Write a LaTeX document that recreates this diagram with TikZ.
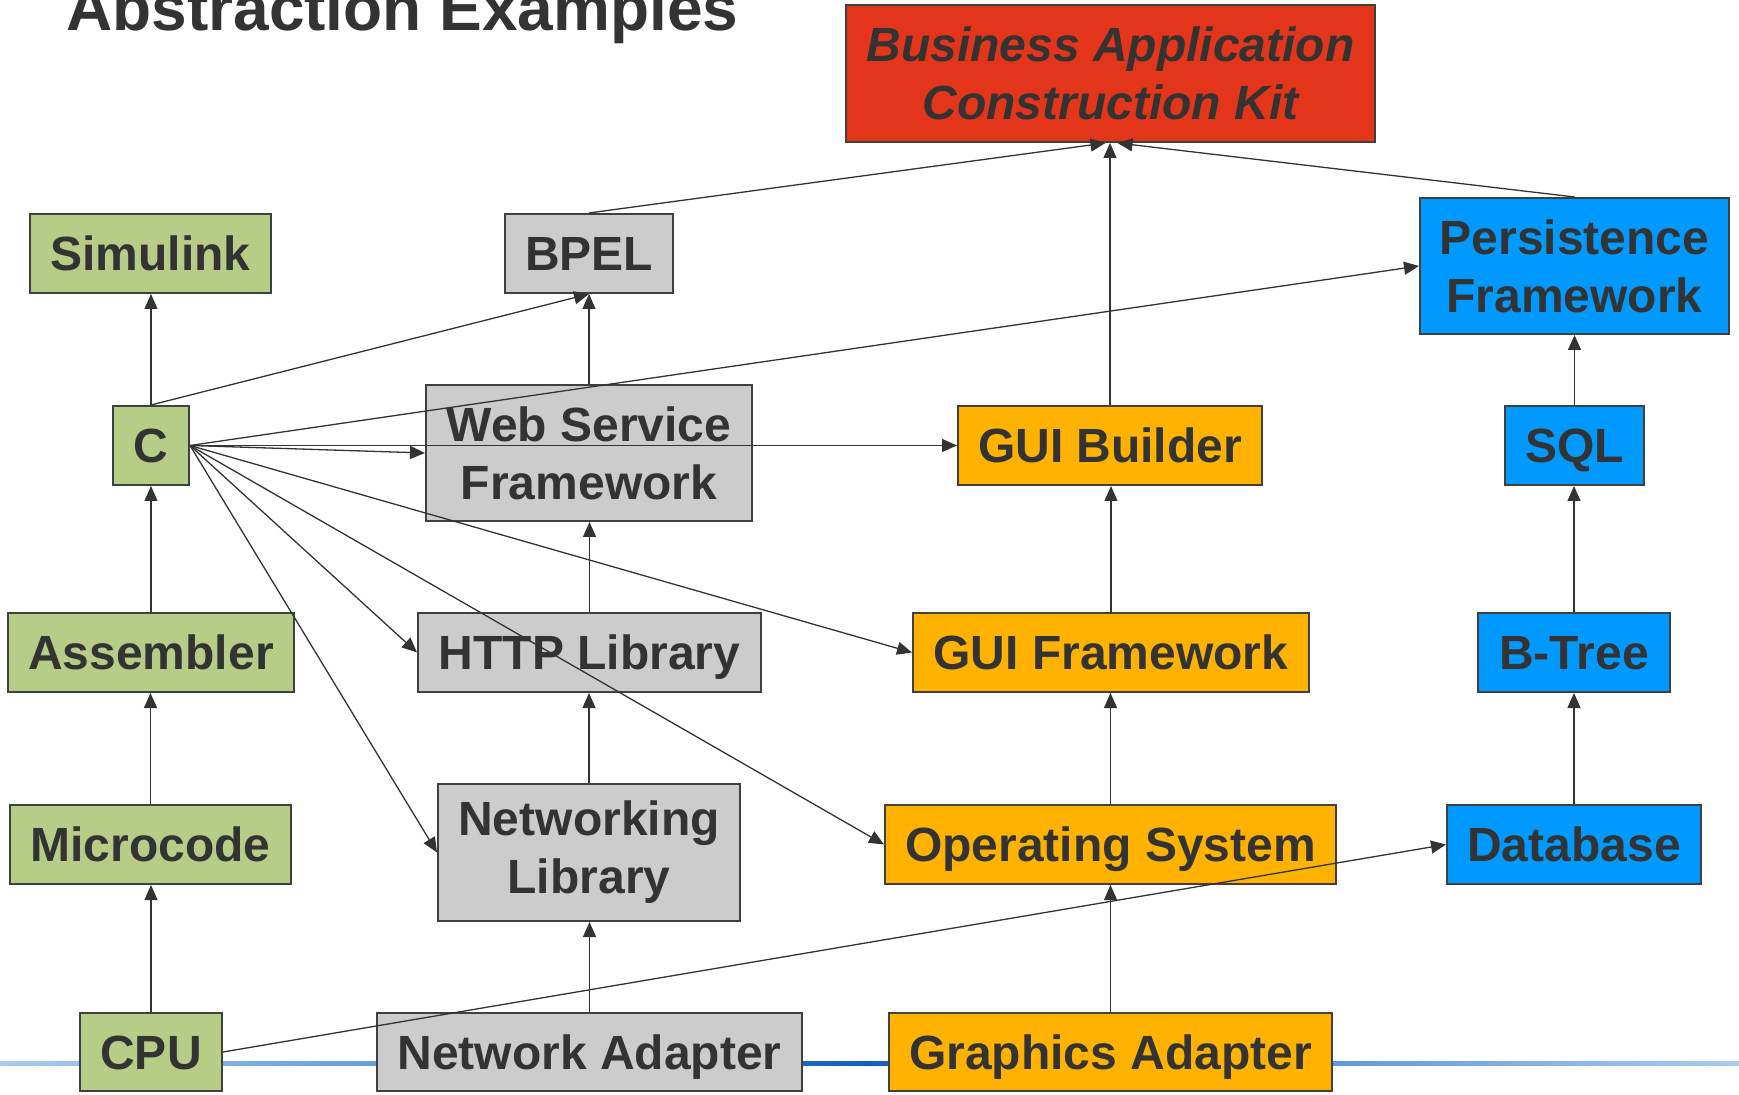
\documentclass[tikz,border=0pt]{standalone}
\usepackage{fontspec}
\setmainfont{Liberation Sans}
\usetikzlibrary{arrows.meta,calc}
\definecolor{txt}{HTML}{333333}
\definecolor{bord}{HTML}{404040}
\definecolor{cgreen}{HTML}{B7CC86}
\definecolor{cgray}{HTML}{CCCCCC}
\definecolor{corange}{HTML}{FFB300}
\definecolor{cblue}{HTML}{0099FF}
\definecolor{cred}{HTML}{E3351A}
\definecolor{lblue}{HTML}{A8CCEE}
\definecolor{dblue}{HTML}{1060C0}
\begin{document}
\begin{tikzpicture}[x=0.5pt,y=-0.5pt,
  box/.style 2 args={draw=bord, line width=1pt, inner sep=0pt, align=center,
    text=txt, font=\fontsize{24}{29}\selectfont\bfseries,
    minimum width=#1*0.5pt, minimum height=#2*0.5pt},
  one/.style={text height=17.2pt, text depth=0pt},
  gbox/.style={fill=cgreen},
  ybox/.style={fill=cgray},
  obox/.style={fill=corange},
  bbox/.style={fill=cblue},
  rbox/.style={fill=cred},
  arr/.style={draw=txt, line width=0.65pt, -{Triangle[length=7.5pt,width=6.5pt]}}
]
\useasboundingbox (0,0) rectangle (1739,1095);
% bottom gradient line
\shade[left color=lblue, right color=lblue, middle color=dblue] (0,1061) rectangle (1739,1065);
% title
\node[anchor=base west, inner sep=0pt, text=txt, font=\fontsize{32}{36}\selectfont\bfseries] (title) at (66,31) {Abstraction Examples};
% nodes
\node[box={529}{137}, rbox, font=\fontsize{24}{29}\selectfont\bfseries\itshape] (back) at (1110.5,73.5) {Business Application\\Construction Kit};
\node[box={241}{79}, one, gbox] (sim) at (150.5,253.5) {Simulink};
\node[box={168}{79}, one, ybox] (bpel) at (589,253.5) {BPEL};
\node[box={309}{136}, bbox] (pf) at (1574.5,266) {Persistence\\Framework};
\node[box={76}{79}, one, gbox] (c) at (151,445.5) {C};
\node[box={326}{136}, ybox] (wsf) at (589,453) {Web Service\\Framework};
\node[box={304}{79}, one, obox] (guib) at (1110,445.5) {GUI Builder};
\node[box={139}{79}, one, bbox] (sql) at (1574.5,445.5) {SQL};
\node[box={286}{79}, one, gbox] (asm) at (151,652.5) {Assembler};
\node[box={343}{79}, one, ybox] (http) at (589.5,652.5) {HTTP Library};
\node[box={396}{79}, one, obox] (guif) at (1111,652.5) {GUI Framework};
\node[box={192}{79}, one, bbox] (btree) at (1574,652.5) {B-Tree};
\node[box={281}{79}, one, gbox] (micro) at (150.5,844.5) {Microcode};
\node[box={302}{137}, ybox] (netlib) at (589,852.5) {Networking\\Library};
\node[box={451}{79}, one, obox] (os) at (1110.5,844.5) {Operating System};
\node[box={254}{79}, one, bbox] (db) at (1574,844.5) {Database};
\node[box={142}{78}, one, gbox] (cpu) at (151,1052) {CPU};
\node[box={425}{78}, one, ybox] (na) at (589.5,1052) {Network Adapter};
\node[box={443}{78}, one, obox] (ga) at (1110.5,1052) {Graphics Adapter};
% vertical connectors
\draw[arr] (c.north) -- (c.north |- sim.south);
\draw[arr] (asm.north) -- (asm.north |- c.south);
\draw[arr] (micro.north) -- (micro.north |- asm.south);
\draw[arr] (cpu.north) -- (cpu.north |- micro.south);
\draw[arr] (wsf.north) -- (wsf.north |- bpel.south);
\draw[arr] (http.north) -- (http.north |- wsf.south);
\draw[arr] (netlib.north) -- (netlib.north |- http.south);
\draw[arr] (na.north) -- (na.north |- netlib.south);
\draw[arr] (guib.north) -- (guib.north |- back.south);
\draw[arr] (guif.north) -- (guif.north |- guib.south);
\draw[arr] (os.north) -- (os.north |- guif.south);
\draw[arr] (ga.north) -- (ga.north |- os.south);
\draw[arr] (sql.north) -- (sql.north |- pf.south);
\draw[arr] (btree.north) -- (btree.north |- sql.south);
\draw[arr] (db.north) -- (db.north |- btree.south);
% slanted connectors
\draw[arr] (bpel.north) -- ($(back.south)+(-5,0)$);
\draw[arr] (pf.north) -- ($(back.south)+(7,0)$);
\draw[arr] (c.north) -- (bpel.south);
\draw[arr] (c.east) -- (pf.west);
\draw[arr] (c.east) -- (wsf.west);
\draw[arr] (c.east) -- (c.east -| guib.west);
\draw[arr] (c.east) -- (guif.west);
\draw[arr] (c.east) -- (http.west);
\draw[arr] (c.east) -- (os.west);
\draw[arr] (c.east) -- (netlib.west);
\draw[arr] (cpu.east) -- (db.west);
\end{tikzpicture}
\end{document}
